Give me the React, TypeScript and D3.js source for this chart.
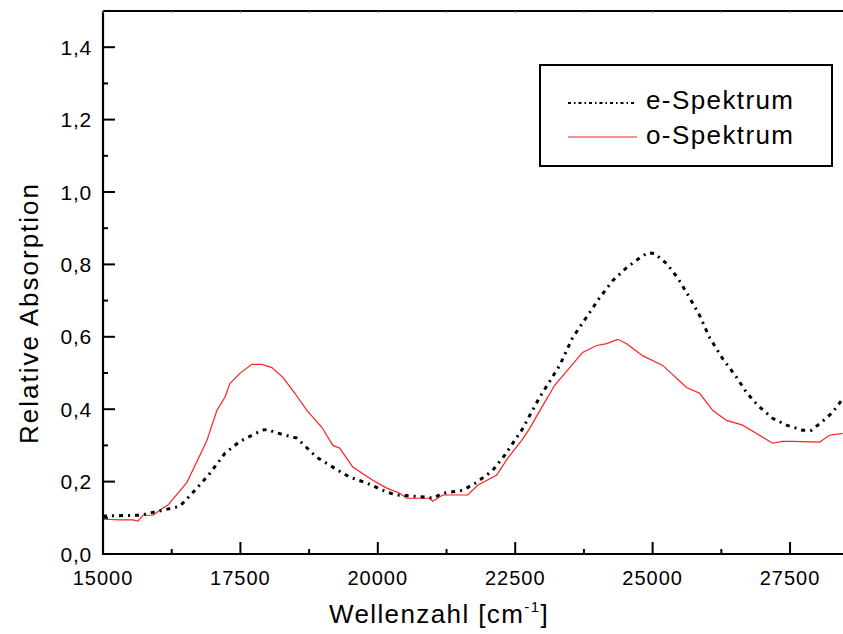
import React from "react";
import * as d3 from "d3";

// Wavenumber (cm^-1) and relative absorption for the extraordinary spectrum
const eWave = [15000, 15673, 16091, 16400, 16673, 16945, 17218, 17491, 17891, 18000, 18127, 18527, 18891, 19182, 19491, 19800, 20164, 20345, 20891, 21000, 21182, 21545, 21800, 22091, 22309, 22618, 22945, 23309, 23545, 23818, 24036, 24273, 24527, 24764, 24909, 25036, 25255, 25455, 25673, 25855, 26036, 26273, 26527, 26709, 26909, 27182, 27436, 27727, 27891, 28073, 28273, 28436];
const eAbs = [0.105, 0.107, 0.121, 0.132, 0.176, 0.223, 0.278, 0.311, 0.342, 0.344, 0.336, 0.320, 0.267, 0.240, 0.212, 0.196, 0.171, 0.163, 0.157, 0.154, 0.168, 0.176, 0.198, 0.231, 0.273, 0.342, 0.433, 0.521, 0.598, 0.659, 0.708, 0.755, 0.791, 0.818, 0.832, 0.830, 0.802, 0.763, 0.708, 0.659, 0.598, 0.540, 0.488, 0.446, 0.411, 0.375, 0.356, 0.342, 0.342, 0.364, 0.391, 0.424];

// Ordinary spectrum
const oWave = [15000, 15309, 15545, 15636, 15727, 15909, 16091, 16182, 16527, 16764, 16891, 17073, 17218, 17309, 17491, 17709, 17891, 18073, 18273, 18491, 18709, 18982, 19182, 19309, 19545, 19909, 20164, 20400, 20527, 20945, 21000, 21182, 21636, 21818, 22164, 22364, 22618, 22764, 22982, 23218, 23491, 23727, 23982, 24164, 24364, 24527, 24818, 25182, 25618, 25855, 26091, 26345, 26636, 26891, 27182, 27364, 27545, 28036, 28218, 28455];
const oAbs = [0.096, 0.094, 0.094, 0.091, 0.107, 0.107, 0.127, 0.135, 0.198, 0.273, 0.314, 0.397, 0.433, 0.471, 0.499, 0.524, 0.524, 0.515, 0.488, 0.444, 0.397, 0.350, 0.300, 0.292, 0.240, 0.204, 0.182, 0.168, 0.154, 0.154, 0.146, 0.163, 0.163, 0.190, 0.218, 0.265, 0.314, 0.347, 0.405, 0.466, 0.515, 0.557, 0.576, 0.581, 0.593, 0.581, 0.548, 0.521, 0.460, 0.444, 0.397, 0.369, 0.356, 0.333, 0.306, 0.311, 0.311, 0.309, 0.328, 0.333];

const xTicks = [15000, 17500, 20000, 22500, 25000, 27500];
const xMinor = [16250, 18750, 21250, 23750, 26250, 28750];
const yTicks = [0, 0.2, 0.4, 0.6, 0.8, 1.0, 1.2, 1.4];
const yMinor = [0.1, 0.3, 0.5, 0.7, 0.9, 1.1, 1.3];

const W = 843;
const H = 634;
const left = 103;
const right = 845;
const top = 11;
const bottom = 554;

const font = "'Liberation Sans', Arial, sans-serif";

export default function App() {
  const x = d3.scaleLinear().domain([15000, 28500]).range([left, right]);
  const y = d3.scaleLinear().domain([0, 1.5]).range([bottom, top]);

  const line = d3
    .line<[number, number]>()
    .x((d) => x(d[0]))
    .y((d) => y(d[1]))
    .curve(d3.curveLinear);

  const eData = eWave.map((w, i) => [w, eAbs[i]] as [number, number]);
  const oData = oWave.map((w, i) => [w, oAbs[i]] as [number, number]);

  const fmt = (v: number) => v.toFixed(1).replace(".", ",");

  return (
    <svg
      width={W}
      height={H}
      style={{ position: "absolute", left: 0, top: 0, background: "#fff" }}
      fontFamily={font}
    >
      <defs>
        <clipPath id="plot">
          <rect x={left} y={top} width={right - left} height={bottom - top} />
        </clipPath>
      </defs>

      {/* curves */}
      <g clipPath="url(#plot)">
        <path d={line(oData) || ""} fill="none" stroke="#ff2020" strokeWidth={1.2} />
        <path
          d={line(eData) || ""}
          fill="none"
          stroke="#000"
          strokeWidth={3}
          strokeDasharray="4,5,2,5"
        />
      </g>

      {/* frame */}
      <line x1={left} x2={right} y1={top} y2={top} stroke="#000" strokeWidth={2} />
      <line x1={left} x2={left} y1={top} y2={bottom} stroke="#000" strokeWidth={2.2} />
      <line x1={left - 1} x2={right} y1={bottom} y2={bottom} stroke="#000" strokeWidth={2.2} />

      {/* top minor marks */}
      {[...xTicks, ...xMinor].map((t) => (
        <line key={"tt" + t} x1={x(t)} x2={x(t)} y1={top} y2={top + 2} stroke="#888" strokeWidth={1} />
      ))}

      {/* x ticks */}
      {xTicks.map((t) => (
        <g key={"xt" + t}>
          <line x1={x(t)} x2={x(t)} y1={bottom} y2={bottom - 12} stroke="#000" strokeWidth={2} />
          <text
            x={x(t)}
            y={585}
            textAnchor="middle"
            fontSize={20}
            letterSpacing={1}
            fill="#000"
          >
            {String(t)}
          </text>
        </g>
      ))}
      {xMinor.map((t) => (
        <line key={"xm" + t} x1={x(t)} x2={x(t)} y1={bottom} y2={bottom - 5} stroke="#000" strokeWidth={2} />
      ))}

      {/* y ticks */}
      {yTicks.map((t) => (
        <g key={"yt" + t}>
          <line x1={left} x2={left + 12} y1={y(t)} y2={y(t)} stroke="#000" strokeWidth={2} />
          <text x={92} y={y(t) + 7.5} textAnchor="end" fontSize={21} letterSpacing={0.8} fill="#000">
            {fmt(t)}
          </text>
        </g>
      ))}
      {yMinor.map((t) => (
        <line key={"ym" + t} x1={left} x2={left + 5} y1={y(t)} y2={y(t)} stroke="#000" strokeWidth={2} />
      ))}

      {/* axis titles */}
      <text x={439} y={623} textAnchor="middle" fontSize={26} letterSpacing={1.4} fill="#000">
        Wellenzahl [cm
        <tspan dy={-11} fontSize={15}>-1</tspan>
        <tspan dy={11}>]</tspan>
      </text>
      <text
        transform={`translate(38, 313) rotate(-90)`}
        textAnchor="middle"
        fontSize={26}
        letterSpacing={2}
        fill="#000"
      >
        Relative Absorption
      </text>

      {/* legend */}
      <rect x={540} y={65} width={292} height={101} fill="#fff" stroke="#000" strokeWidth={2} />
      <line x1={568} x2={637} y1={103} y2={103} stroke="#000" strokeWidth={2} strokeDasharray="3,3,1.5,3" />
      <text x={646} y={109} fontSize={26} letterSpacing={1.4} fill="#000">e-Spektrum</text>
      <line x1={568} x2={637} y1={137} y2={137} stroke="#ff2020" strokeWidth={1.2} />
      <text x={646} y={144} fontSize={26} letterSpacing={1.4} fill="#000">o-Spektrum</text>
    </svg>
  );
}
